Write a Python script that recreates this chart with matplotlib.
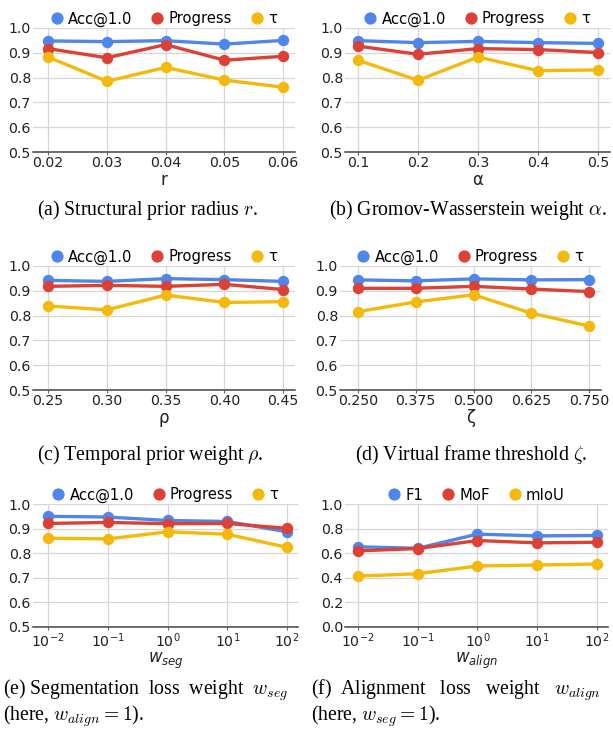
import numpy as np
import matplotlib
matplotlib.use("Agg")
import matplotlib.pyplot as plt
from matplotlib.lines import Line2D

plt.rcParams["font.family"] = "DejaVu Sans"
plt.rcParams["mathtext.fontset"] = "dejavusans"

# Colours of the three series
BLUE = "#4F86EC"
RED = "#DD4035"
YELLOW = "#F4B90B"

# (a) structural prior radius r
r_vals = [0.02, 0.03, 0.04, 0.05, 0.06]
r_acc = [0.948, 0.945, 0.949, 0.935, 0.950]
r_prog = [0.917, 0.880, 0.933, 0.870, 0.886]
r_tau = [0.883, 0.785, 0.841, 0.790, 0.761]

# (b) Gromov-Wasserstein weight alpha
alpha_vals = [0.1, 0.2, 0.3, 0.4, 0.5]
alpha_acc = [0.949, 0.941, 0.946, 0.941, 0.938]
alpha_prog = [0.927, 0.894, 0.917, 0.913, 0.901]
alpha_tau = [0.870, 0.789, 0.883, 0.828, 0.831]

# (c) temporal prior weight rho
rho_vals = [0.25, 0.30, 0.35, 0.40, 0.45]
rho_acc = [0.942, 0.938, 0.949, 0.945, 0.938]
rho_prog = [0.918, 0.922, 0.918, 0.926, 0.905]
rho_tau = [0.839, 0.823, 0.883, 0.853, 0.856]

# (d) virtual frame threshold zeta
zeta_vals = [0.250, 0.375, 0.500, 0.625, 0.750]
zeta_acc = [0.944, 0.940, 0.948, 0.944, 0.945]
zeta_prog = [0.910, 0.910, 0.918, 0.907, 0.897]
zeta_tau = [0.816, 0.855, 0.884, 0.810, 0.758]

# (e) segmentation loss weight
wseg_vals = [1e-2, 1e-1, 1e0, 1e1, 1e2]
wseg_acc = [0.950, 0.947, 0.933, 0.929, 0.887]
wseg_prog = [0.921, 0.925, 0.920, 0.921, 0.901]
wseg_tau = [0.861, 0.858, 0.887, 0.877, 0.824]

# (f) alignment loss weight
walign_vals = [1e-2, 1e-1, 1e0, 1e1, 1e2]
walign_f1 = [0.652, 0.640, 0.755, 0.741, 0.744]
walign_mof = [0.619, 0.638, 0.703, 0.684, 0.689]
walign_miou = [0.414, 0.433, 0.496, 0.504, 0.512]

acc_names = ["Acc@1.0", "Progress", "τ"]
seg_names = ["F1", "MoF", "mIoU"]

W, H = 613, 734
fig = plt.figure(figsize=(W / 100, H / 100), dpi=100)


def add_panel(left, right, top, bottom):
    return fig.add_axes([left / W, 1 - bottom / H, (right - left) / W, (bottom - top) / H])


def draw_panel(ax, x, series, names, xlabel, ylim, yticks, xticklabels=None,
               log=False, pads=(0.06, 0.05)):
    for ys, c in zip(series, [BLUE, RED, YELLOW]):
        ax.plot(x, ys, color=c, lw=2.4, marker="o", markersize=7.2, zorder=3,
                solid_capstyle="round")
    if log:
        ax.set_xscale("log")
        lo, hi = np.log10(x[0]), np.log10(x[-1])
        span = hi - lo
        ax.set_xlim(10 ** (lo - pads[0] * span), 10 ** (hi + pads[1] * span))
        ax.minorticks_off()
    else:
        span = x[-1] - x[0]
        ax.set_xlim(x[0] - pads[0] * span, x[-1] + pads[1] * span)
    ax.set_xticks(x)
    if xticklabels is not None:
        ax.set_xticklabels(xticklabels)
    ax.set_ylim(*ylim)
    ax.set_yticks(yticks)
    ax.set_yticklabels([f"{v:.1f}" for v in yticks])
    ax.grid(True, color="#d6d6d6", lw=0.9, zorder=0)
    ax.set_axisbelow(True)
    for s in ["left", "right", "top"]:
        ax.spines[s].set_visible(False)
    ax.spines["bottom"].set_color("#444444")
    ax.spines["bottom"].set_linewidth(1.1)
    ax.tick_params(axis="y", length=0, labelsize=10.2, pad=1.5, colors="#222222")
    ax.tick_params(axis="x", length=2.5, width=0.8, color="#666666", labelsize=10.2,
                   pad=0.5, labelcolor="#222222")
    ax.set_xlabel(xlabel, fontsize=12, labelpad=0.5, color="#222222")
    handles = [Line2D([], [], ls="", marker="o", color=c, markersize=7.8)
               for c in [BLUE, RED, YELLOW]]
    ax.legend(handles, names, loc="lower center", bbox_to_anchor=(0.5, 1.0),
              ncol=3, frameon=False, fontsize=10.6, handlelength=0.8,
              handletextpad=0.35, columnspacing=1.3, borderaxespad=0.0,
              borderpad=0.1)


yt = [0.5, 0.6, 0.7, 0.8, 0.9, 1.0]

ax_a = add_panel(33, 295, 28, 152)
draw_panel(ax_a, r_vals, [r_acc, r_prog, r_tau], acc_names, "r", (0.5, 1.0), yt,
           pads=(0.064, 0.05))

ax_b = add_panel(345, 610, 28, 152)
draw_panel(ax_b, alpha_vals, [alpha_acc, alpha_prog, alpha_tau], acc_names, "α",
           (0.5, 1.0), yt, pads=(0.054, 0.05))

ax_c = add_panel(33, 295, 266, 390)
draw_panel(ax_c, rho_vals, [rho_acc, rho_prog, rho_tau], acc_names, "ρ", (0.5, 1.0), yt,
           xticklabels=[f"{v:.2f}" for v in rho_vals], pads=(0.064, 0.05))

ax_d = add_panel(340, 601, 266, 390)
draw_panel(ax_d, zeta_vals, [zeta_acc, zeta_prog, zeta_tau], acc_names, "ζ", (0.5, 1.0), yt,
           xticklabels=[f"{v:.3f}" for v in zeta_vals], pads=(0.078, 0.052))

ax_e = add_panel(33, 298, 504, 627)
draw_panel(ax_e, wseg_vals, [wseg_acc, wseg_prog, wseg_tau], acc_names, "$w_{seg}$",
           (0.5, 1.0), yt, log=True, pads=(0.063, 0.046))

ax_f = add_panel(345, 608, 504, 627)
draw_panel(ax_f, walign_vals, [walign_f1, walign_mof, walign_miou], seg_names,
           "$w_{align}$", (0.0, 1.0), [0.0, 0.2, 0.4, 0.6, 0.8, 1.0], log=True,
           pads=(0.054, 0.046))

# captions underneath, in the paper's serif face
cap = dict(fontsize=14.2, family=["Liberation Serif", "DejaVu Serif"],
           math_fontfamily="cm", color="black")
fig.text(147 / W, 1 - 210 / H, "(a) Structural prior radius $r$.", ha="center", va="center", **cap)
fig.text(329 / W, 1 - 210 / H, "(b) Gromov-Wasserstein weight $\\alpha$.", ha="left", va="center", **cap)
fig.text(150 / W, 1 - 455 / H, "(c) Temporal prior weight $\\rho$.", ha="center", va="center", **cap)
fig.text(471 / W, 1 - 455 / H, "(d) Virtual frame threshold $\\zeta$.", ha="center", va="center", **cap)
fig.text(3 / W, 1 - 677 / H, "(e) Segmentation  loss  weight  $w_{seg}$\n(here, $w_{align}=1$).",
         ha="left", va="top", linespacing=1.05, **cap)
fig.text(311 / W, 1 - 677 / H, "(f)  Alignment   loss   weight   $w_{align}$\n(here, $w_{seg}=1$).",
         ha="left", va="top", linespacing=1.05, **cap)

fig.savefig("out.png", dpi=100)
